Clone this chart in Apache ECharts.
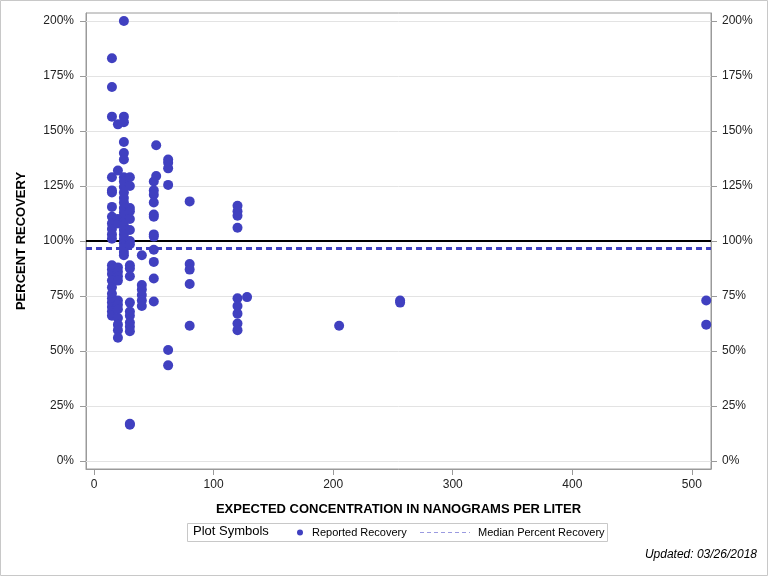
<!DOCTYPE html>
<html>
<head>
<meta charset="utf-8">
<script src="https://cdn.jsdelivr.net/npm/echarts@6/dist/echarts.min.js"></script>
<style>
html,body{margin:0;padding:0;background:#fff;}
#chart{width:768px;height:576px;}
</style>
</head>
<body>
<div id="chart"></div>
<script>
// Expected concentrations (ng/L) and the percent recoveries reported at each
const concentrations = [15, 20, 25, 30, 40, 50, 52, 62, 80, 120, 128, 205, 256, 512];
const recoveries = [
  [183, 170, 156.5, 129, 123, 122, 115.5, 111, 108, 105.5, 103, 101, 89, 87, 85, 82, 79, 76, 74, 72, 70, 68, 66],
  [153, 132, 110, 108, 88, 86, 84, 82, 73, 71, 69, 65, 62, 59.5, 56],
  [200, 156.5, 154, 145, 140, 137, 129, 127, 124.5, 122, 119.5, 117.5, 115, 113, 111, 109, 107, 105, 103, 101, 99, 97, 95, 93.5],
  [129, 125, 115, 113.5, 110, 105, 100, 98.5, 89, 87.5, 84, 72, 68, 66, 63, 61, 59, 17, 16.5],
  [93.5, 80, 78, 75.5, 73, 70.5],
  [127, 123, 121, 117.5, 112, 111, 103, 102, 96, 90.5, 83, 72.5],
  [143.5, 129.5],
  [137, 135.5, 133, 125.5, 50.5, 43.5],
  [118, 89.5, 87, 80.5, 61.5],
  [116, 113.5, 111.5, 106, 74, 70.5, 67, 62.5, 59.5],
  [74.5],
  [61.5],
  [73, 72],
  [73, 62]
];
const medianRecovery = 96.8;
const targetRecovery = 100;
const yTicks = [0, 25, 50, 75, 100, 125, 150, 175, 200];
const xTicks = [0, 100, 200, 300, 400, 500];

const points = [];
concentrations.forEach((c, i) => recoveries[i].forEach(v => points.push([c, v])));

const FONT = '"Liberation Sans", Arial, sans-serif';
const axisGray = '#9a9a9a';

const chart = echarts.init(document.getElementById('chart'), null, {renderer: 'canvas'});

const yAxisCommon = {
  type: 'value', min: -3.6, max: 203.6,
  axisLine: {show: true, onZero: false, lineStyle: {color: axisGray, width: 1}},
  axisTick: {show: true, length: 6, lineStyle: {color: axisGray}, customValues: yTicks},
  axisLabel: {color: '#222', fontSize: 12, fontFamily: FONT, margin: 12,
    customValues: yTicks, formatter: v => v + '%'},
  splitLine: {show: false}
};

chart.setOption({
  animation: false,
  backgroundColor: '#fff',
  grid: {left: 86, right: 57, top: 13, bottom: 107, show: true, borderColor: axisGray, borderWidth: 1},
  xAxis: {
    type: 'value', min: -6.7, max: 516,
    name: 'EXPECTED CONCENTRATION IN NANOGRAMS PER LITER',
    nameLocation: 'middle', nameGap: 34,
    nameTextStyle: {fontSize: 13, fontWeight: 'bold', color: '#000', fontFamily: FONT},
    axisLine: {show: true, onZero: false, lineStyle: {color: axisGray}},
    axisTick: {show: true, length: 6, lineStyle: {color: axisGray}, customValues: xTicks},
    axisLabel: {color: '#222', fontSize: 12, fontFamily: FONT, margin: 10, customValues: xTicks},
    splitLine: {show: false}
  },
  yAxis: [
    Object.assign({}, yAxisCommon, {
      position: 'left',
      name: 'PERCENT RECOVERY', nameLocation: 'middle', nameGap: 58, nameRotate: 90,
      nameTextStyle: {fontSize: 13, fontWeight: 'bold', color: '#000', fontFamily: FONT}
    }),
    Object.assign({}, yAxisCommon, {position: 'right', axisLabel: Object.assign({}, yAxisCommon.axisLabel, {margin: 11})})
  ],
  series: [
    {
      name: 'gridlines', type: 'scatter', data: [], z: 1, silent: true,
      markLine: {
        silent: true, symbol: 'none', animation: false,
        label: {show: false},
        lineStyle: {color: '#e3e3e3', width: 1, type: 'solid'},
        data: yTicks.map(t => ({yAxis: t}))
      }
    },
    {
      name: 'Reported Recovery', type: 'scatter', data: points, z: 5,
      symbol: 'circle', symbolSize: 10,
      itemStyle: {color: '#4040c0', opacity: 1},
      markLine: {
        silent: true, symbol: 'none', animation: false, label: {show: false},
        data: [
          {yAxis: targetRecovery, lineStyle: {color: '#000', width: 2, type: 'solid'}},
          {yAxis: medianRecovery, lineStyle: {color: '#4040c0', width: 3, type: [6, 4]}}
        ]
      }
    }
  ],
  graphic: [
    {type: 'rect', shape: {x: 0.5, y: 0.5, width: 767, height: 575},
     style: {fill: 'none', stroke: '#c8c8c8', lineWidth: 1}, silent: true},
    {type: 'rect', shape: {x: 187.5, y: 523.5, width: 420, height: 18},
     style: {fill: '#fff', stroke: '#c8c8c8', lineWidth: 1}, silent: true},
    {type: 'text', left: 193, top: 525,
     style: {text: 'Plot Symbols', fontSize: 13, fontFamily: FONT, fill: '#000'}},
    {type: 'circle', shape: {cx: 300, cy: 532.5, r: 3},
     style: {fill: '#4040c0'}},
    {type: 'text', left: 312, top: 527,
     style: {text: 'Reported Recovery', fontSize: 11, fontFamily: FONT, fill: '#000'}},
    {type: 'line', shape: {x1: 420, y1: 532.5, x2: 470, y2: 532.5},
     style: {stroke: '#9a9ae0', lineWidth: 1, lineDash: [4, 3]}},
    {type: 'text', left: 478, top: 527,
     style: {text: 'Median Percent Recovery', fontSize: 11, fontFamily: FONT, fill: '#000'}},
    {type: 'text', right: 11, top: 549,
     style: {text: 'Updated: 03/26/2018', fontSize: 12, fontStyle: 'italic', fontFamily: FONT, fill: '#000'}}
  ]
});
</script>
</body>
</html>
